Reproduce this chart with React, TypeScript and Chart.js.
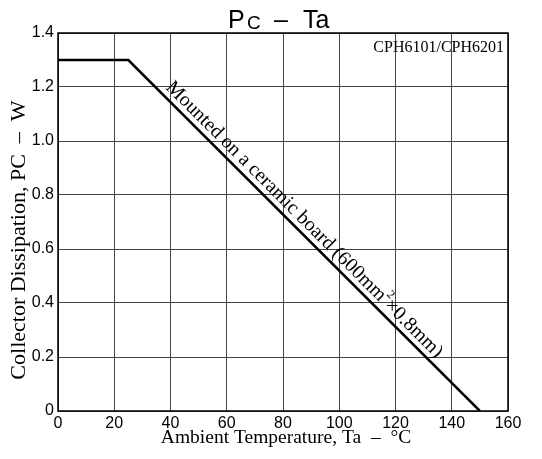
import React, { useEffect, useRef } from "react";
import { Chart, registerables } from "chart.js";

Chart.register(...registerables);

const tempPoints = [0, 25, 150];
const powerPoints = [1.3, 1.3, 0];
const xTicks = [0, 20, 40, 60, 80, 100, 120, 140, 160];
const yTicks = [0, 0.2, 0.4, 0.6, 0.8, 1.0, 1.2, 1.4];
const titleMain = "P";
const titleSub = "C";
const titleDash = "–";
const titleRest = "Ta";
const partLabel = "CPH6101/CPH6201";
const curveLabelA = "Mounted on a ceramic board (600mm";
const curveLabelSup = "2";
const curveLabelB = "×0.8mm)";
const xTitle = "Ambient Temperature, Ta  –  °C";
const yTitle = "Collector Dissipation, PC  –  W";

const textPlugin = {
  id: "textPlugin",
  afterDraw(chart: any) {
    const ctx = chart.ctx;
    const a = chart.chartArea;
    const xs = chart.scales.x;
    const ys = chart.scales.y;
    ctx.save();
    ctx.fillStyle = "#000";
    // Title with subscript
    ctx.textBaseline = "alphabetic";
    ctx.textAlign = "left";
    const ty = 28;
    ctx.font = "25px 'Liberation Sans', sans-serif";
    ctx.fillText(titleMain, 228, ty);
    ctx.font = "19px 'Liberation Sans', sans-serif";
    ctx.fillText(titleSub, 247, ty + 1);
    ctx.font = "25px 'Liberation Sans', sans-serif";
    ctx.fillText(titleDash, 274, ty);
    ctx.fillText(titleRest, 303, ty);

    // part label
    ctx.font = "16px 'Liberation Serif', serif";
    ctx.textAlign = "right";
    ctx.fillText(partLabel, a.right - 4, a.top + 19);

    // axis titles
    ctx.font = "19.5px 'Liberation Serif', serif";
    ctx.textAlign = "center";
    ctx.fillText(xTitle, 286, 443);
    ctx.save();
    ctx.translate(25, 240);
    ctx.rotate(-Math.PI / 2);
    ctx.font = "22px 'Liberation Serif', serif";
    ctx.fillText(yTitle, 0, 0);
    ctx.restore();

    // curve label along sloped segment
    const x1 = xs.getPixelForValue(tempPoints[1]);
    const y1 = ys.getPixelForValue(powerPoints[1]);
    const x2 = xs.getPixelForValue(tempPoints[2]);
    const y2 = ys.getPixelForValue(powerPoints[2]);
    const ang = Math.atan2(y2 - y1, x2 - x1);
    const ux = Math.cos(ang), uy = Math.sin(ang);
    const px = uy, py = -ux; // perpendicular toward upper right
    const along = 46;
    const off = 6;
    ctx.save();
    ctx.translate(x1 + ux * along + px * off, y1 + uy * along + py * off);
    ctx.rotate(ang);
    ctx.textAlign = "left";
    ctx.textBaseline = "alphabetic";
    ctx.font = "20px 'Liberation Serif', serif";
    ctx.fillText(curveLabelA, 0, 0);
    let cx = ctx.measureText(curveLabelA).width;
    ctx.font = "12px 'Liberation Serif', serif";
    ctx.fillText(curveLabelSup, cx, -10);
    cx += ctx.measureText(curveLabelSup).width;
    ctx.font = "20px 'Liberation Serif', serif";
    ctx.fillText(curveLabelB, cx, 0);
    ctx.restore();

    // frame
    ctx.strokeStyle = "#000";
    ctx.lineWidth = 1.5;
    ctx.strokeRect(a.left, a.top, a.right - a.left, a.bottom - a.top);
    ctx.restore();
  },
};

export default function App() {
  const ref = useRef<HTMLCanvasElement>(null);
  useEffect(() => {
    if (!ref.current) return;
    const chart = new Chart(ref.current, {
      type: "line",
      data: {
        datasets: [
          {
            data: tempPoints.map((t, i) => ({ x: t, y: powerPoints[i] })),
            borderColor: "#000",
            borderWidth: 2.5,
            pointRadius: 0,
            fill: false,
            tension: 0,
          },
        ],
      },
      options: {
        animation: false,
        responsive: true,
        maintainAspectRatio: false,
        layout: { padding: { left: 0, top: 33, right: 34, bottom: 0 } },
        plugins: {
          legend: { display: false },
          tooltip: { enabled: false },
          title: { display: false },
        },
        scales: {
          x: {
            type: "linear",
            min: 0,
            max: 160,
            afterFit: (s: any) => {
              s.height = 48;
            },
            afterBuildTicks: (s: any) => {
              s.ticks = xTicks.map((v) => ({ value: v }));
            },
            grid: { color: "#444", lineWidth: 1, drawTicks: false },
            border: { display: false },
            ticks: {
              color: "#000",
              font: { family: "'Liberation Sans', sans-serif", size: 16 },
              padding: 3,
              maxRotation: 0,
              callback: (v: any) => String(v),
            },
          },
          y: {
            type: "linear",
            min: 0,
            max: 1.4,
            afterFit: (s: any) => {
              s.width = 58;
            },
            afterBuildTicks: (s: any) => {
              s.ticks = yTicks.map((v) => ({ value: v }));
            },
            grid: { color: "#444", lineWidth: 1, drawTicks: false },
            border: { display: false },
            ticks: {
              color: "#000",
              font: { family: "'Liberation Sans', sans-serif", size: 16 },
              padding: 4,
              callback: (v: any) => (v === 0 ? "0" : Number(v).toFixed(1)),
            },
          },
        },
      },
      plugins: [textPlugin],
    });
    return () => chart.destroy();
  }, []);
  return (
    <div style={{ position: "fixed", left: 0, top: 0, width: 542, height: 459, background: "#fff" }}>
      <canvas ref={ref} />
    </div>
  );
}
